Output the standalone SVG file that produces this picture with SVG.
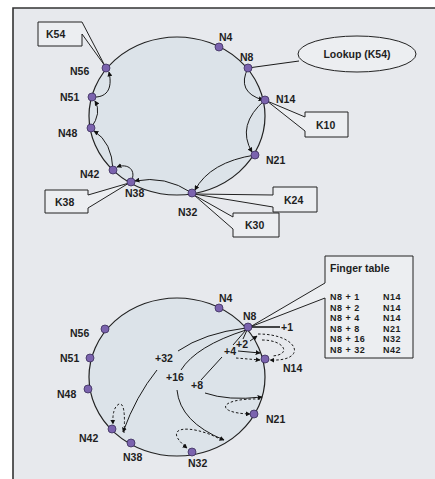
<svg xmlns="http://www.w3.org/2000/svg" width="435" height="479" viewBox="0 0 435 479">
<defs>
<marker id="ah" viewBox="0 0 8 8" refX="7" refY="4" markerWidth="5" markerHeight="5" orient="auto" markerUnits="userSpaceOnUse"><path d="M0,0 L8,4 L0,8 Z" fill="#111"/></marker>
<style>
.ring{fill:#dce3e9;stroke:#222;stroke-width:1.2}
.nd{fill:#7b63ae;stroke:#3b2f5c;stroke-width:0.8}
.lb{font-family:"Liberation Sans",Arial,sans-serif;font-size:10.5px;font-weight:bold;fill:#1e1e1e}
.tb{font-family:"Liberation Sans",Arial,sans-serif;font-size:9px;font-weight:bold;letter-spacing:0.5px;fill:#1e1e1e}
.box{fill:#eceef1;stroke:#222;stroke-width:1}
.c{fill:none;stroke:#1a1a1a;stroke-width:1}
.d{fill:none;stroke:#1a1a1a;stroke-width:1;stroke-dasharray:2.5,2}
</style>
</defs>
<rect x="13" y="8" width="422" height="471" fill="#e7e9ed"/>
<path d="M13,479 V8 H435" fill="none" stroke="#333" stroke-width="1.6"/>

<!-- rings -->
<ellipse class="ring" cx="177" cy="116" rx="88" ry="79"/>
<ellipse class="ring" cx="177" cy="377" rx="88" ry="79"/>

<!-- callouts -->
<g id="k54"><polygon class="box" points="38,22 82,22 105,66 82,34 82,46 38,46"/><text class="lb" x="46" y="38">K54</text></g>
<g id="k38"><polygon class="box" points="45,190 88,190 88,195 129,183 88,208 88,213 45,213"/><text class="lb" x="55" y="206">K38</text></g>
<g id="k10"><polygon class="box" points="305,112 348,112 348,137 305,137 305,131 267,101 305,117"/><text class="lb" x="316" y="129">K10</text></g>
<g id="k24"><polygon class="box" points="273,187 317,187 317,212 273,212 273,207 194,194 273,195"/><text class="lb" x="284" y="204">K24</text></g>
<g id="k30"><polygon class="box" points="233,213 279,213 279,237 233,237 233,229 194,195 233,217"/><text class="lb" x="245" y="229">K30</text></g>
<g id="lookup"><line class="c" x1="248" y1="68" x2="299" y2="61"/><ellipse class="box" cx="357" cy="54" rx="59" ry="18"/><text class="lb" x="357" y="58" text-anchor="middle">Lookup (K54)</text></g>
<g id="finger-table"><polygon class="box" points="325,256 413,256 413,358 325,358 325,298 250,327 325,283"/>
<text class="lb" x="330" y="272">Finger table</text>
<text class="tb" x="330" y="300">N8 + 1</text><text class="tb" x="383" y="300">N14</text>
<text class="tb" x="330" y="310.5">N8 + 2</text><text class="tb" x="383" y="310.5">N14</text>
<text class="tb" x="330" y="321">N8 + 4</text><text class="tb" x="383" y="321">N14</text>
<text class="tb" x="330" y="331.5">N8 + 8</text><text class="tb" x="383" y="331.5">N21</text>
<text class="tb" x="330" y="342">N8 + 16</text><text class="tb" x="383" y="342">N32</text>
<text class="tb" x="330" y="352.5">N8 + 32</text><text class="tb" x="383" y="352.5">N42</text>
</g>

<g id="connectors">
<!-- top lookup path -->
<path class="c" d="M248,68 Q236,92 263,100" marker-end="url(#ah)"/>
<path class="c" d="M265,100 Q236,125 252,152" marker-end="url(#ah)"/>
<path class="c" d="M255,155 Q210,162 195,190" marker-end="url(#ah)"/>
<path class="c" d="M192,193 Q165,175 135,181" marker-end="url(#ah)"/>
<path class="c" d="M131,182 C137,170 128,163 117,167" marker-end="url(#ah)"/>
<path class="c" d="M113,170 Q112,142 94,131" marker-end="url(#ah)"/>
<path class="c" d="M91,128 Q102,113 95,101" marker-end="url(#ah)"/>
<path class="c" d="M92,97 C106,98 113,90 109,72" marker-end="url(#ah)"/>
<!-- bottom finger rays -->
<line x1="248" y1="327" x2="280" y2="327" stroke="#1a1a1a" stroke-width="1.6"/>
<path class="c" d="M247,330 L243,339"/>
<path class="c" d="M250,341 L257,336" marker-end="url(#ah)"/>
<path class="d" d="M258,334 C300,334 308,362 270,360" marker-end="url(#ah)"/>
<path class="d" d="M262,340 C285,340 292,355 272,356"/>
<path class="c" d="M246,330 L233,345"/>
<path class="c" d="M238,351 L260,353" marker-end="url(#ah)"/>
<path class="d" d="M236,358 L260,360" marker-end="url(#ah)"/>
<path class="c" d="M222,357 L201,380"/>
<path class="c" d="M205,393 Q228,401 262,397" marker-end="url(#ah)"/>
<path class="d" d="M260,399 C218,398 214,413 250,414" marker-end="url(#ah)"/>
<path class="c" d="M246,330 Q196,346 181,370"/>
<path class="c" d="M177,390 Q180,422 224,440" marker-end="url(#ah)"/>
<path class="d" d="M218,438 C190,424 160,426 187,448" marker-end="url(#ah)"/>
<path class="c" d="M246,328 Q204,333 178,351"/>
<path class="c" d="M157,370 Q136,396 123,432" marker-end="url(#ah)"/>
<path class="d" d="M124,433 Q126,402 119,404 Q112,408 113,424" marker-end="url(#ah)"/>
</g>

<!-- top nodes -->
<g id="t-n4"><circle class="nd" cx="219" cy="47" r="4"/><text class="lb" x="219" y="41">N4</text></g>
<g id="t-n8"><circle class="nd" cx="248" cy="68" r="4"/><text class="lb" x="240" y="61">N8</text></g>
<g id="t-n14"><circle class="nd" cx="265" cy="100" r="4"/><text class="lb" x="276" y="103">N14</text></g>
<g id="t-n21"><circle class="nd" cx="255" cy="155" r="4"/><text class="lb" x="266" y="164">N21</text></g>
<g id="t-n32"><circle class="nd" cx="192" cy="193" r="4"/><text class="lb" x="178" y="216">N32</text></g>
<g id="t-n38"><circle class="nd" cx="131" cy="182" r="4"/><text class="lb" x="125" y="197">N38</text></g>
<g id="t-n42"><circle class="nd" cx="113" cy="170" r="4"/><text class="lb" x="80" y="178">N42</text></g>
<g id="t-n48"><circle class="nd" cx="91" cy="128" r="4"/><text class="lb" x="58" y="137">N48</text></g>
<g id="t-n51"><circle class="nd" cx="92" cy="97" r="4"/><text class="lb" x="60" y="101">N51</text></g>
<g id="t-n56"><circle class="nd" cx="106" cy="68" r="4"/><text class="lb" x="70" y="75">N56</text></g>

<!-- bottom nodes -->
<g id="b-n4"><circle class="nd" cx="219" cy="308" r="4"/><text class="lb" x="219" y="302">N4</text></g>
<g id="b-n8"><circle class="nd" cx="248" cy="327" r="4"/><text class="lb" x="243" y="320">N8</text></g>
<g id="b-n14"><circle class="nd" cx="265" cy="359" r="4"/><text class="lb" x="283" y="372">N14</text></g>
<g id="b-n21"><circle class="nd" cx="254" cy="414" r="4"/><text class="lb" x="266" y="423">N21</text></g>
<g id="b-n32"><circle class="nd" cx="192" cy="452" r="4"/><text class="lb" x="188" y="467">N32</text></g>
<g id="b-n38"><circle class="nd" cx="131" cy="443" r="4"/><text class="lb" x="123" y="461">N38</text></g>
<g id="b-n42"><circle class="nd" cx="112" cy="429" r="4"/><text class="lb" x="79" y="442">N42</text></g>
<g id="b-n48"><circle class="nd" cx="88" cy="389" r="4"/><text class="lb" x="57" y="398">N48</text></g>
<g id="b-n51"><circle class="nd" cx="90" cy="358" r="4"/><text class="lb" x="60" y="362">N51</text></g>
<g id="b-n56"><circle class="nd" cx="105" cy="329" r="4"/><text class="lb" x="70" y="337">N56</text></g>

<!-- finger labels -->
<g id="finger-labels">
<text class="lb" x="281" y="331">+1</text>
<text class="lb" x="236" y="348">+2</text>
<text class="lb" x="224" y="355">+4</text>
<text class="lb" x="191" y="389">+8</text>
<text class="lb" x="166" y="381">+16</text>
<text class="lb" x="155" y="362">+32</text>
</g>
</svg>
